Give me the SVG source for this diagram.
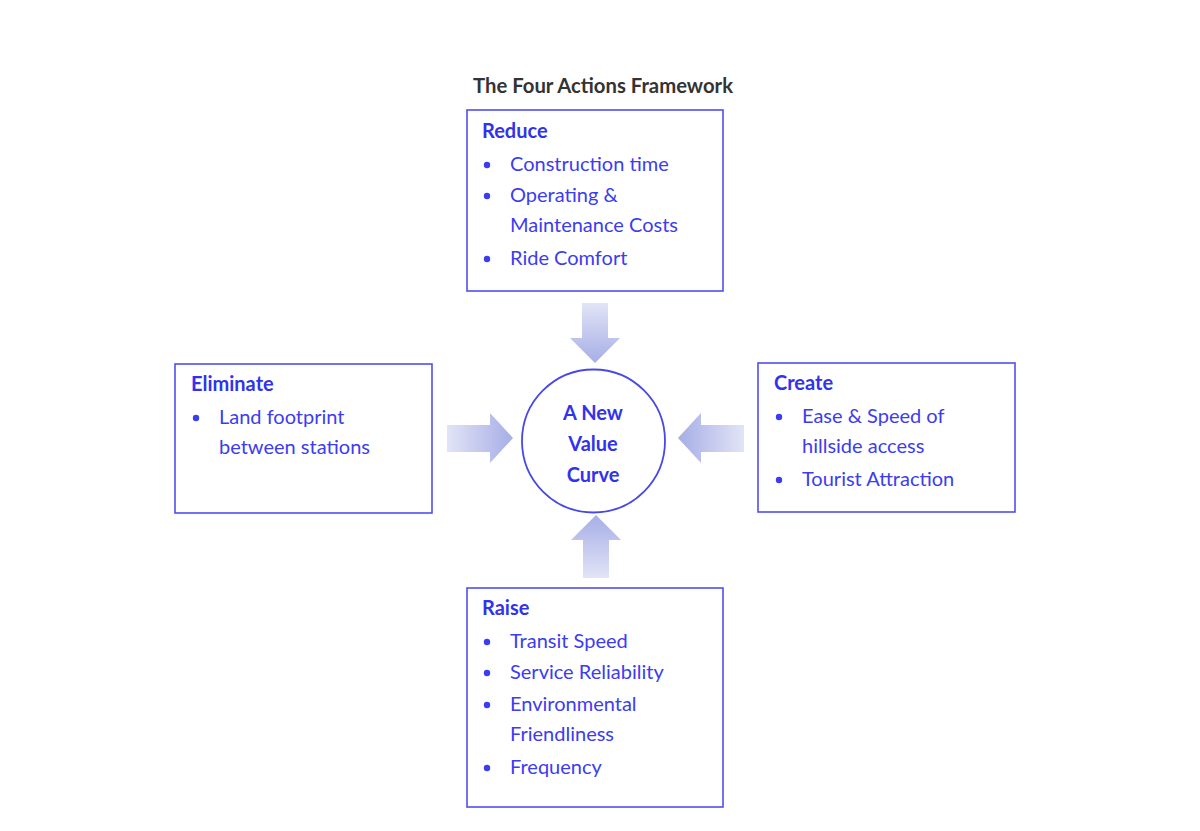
<svg xmlns="http://www.w3.org/2000/svg" width="1200" height="831" viewBox="0 0 1200 831">
<style>
.box{fill:#fff;stroke:#5050ee;stroke-width:1.6}
.t{font-family:Lato,"Open Sans",sans-serif;font-size:20px;fill:#3c3cf0}
.h{font-family:Lato,"Open Sans",sans-serif;font-size:20px;font-weight:bold;fill:#3232ee}
.title{font-family:Lato,"Open Sans",sans-serif;font-size:20.3px;font-weight:bold;fill:#333}
.dot{fill:#3c3cf0}
</style>
<defs>
<linearGradient id="gDown" x1="0" y1="0" x2="0" y2="1"><stop offset="0" stop-color="#e2e4f6"/><stop offset="1" stop-color="#a6aee6"/></linearGradient>
<linearGradient id="gUp" x1="0" y1="1" x2="0" y2="0"><stop offset="0" stop-color="#e2e4f6"/><stop offset="1" stop-color="#a6aee6"/></linearGradient>
<linearGradient id="gRight" x1="0" y1="0" x2="1" y2="0"><stop offset="0" stop-color="#e2e4f6"/><stop offset="1" stop-color="#a6aee6"/></linearGradient>
<linearGradient id="gLeft" x1="1" y1="0" x2="0" y2="0"><stop offset="0" stop-color="#e2e4f6"/><stop offset="1" stop-color="#a6aee6"/></linearGradient>
</defs>
<rect width="1200" height="831" fill="#fff"/>
<text class="title" x="603" y="93" text-anchor="middle">The Four Actions Framework</text>
<g id="connectors">
<polygon fill="url(#gDown)" points="582,303 608,303 608,338 620,338 595,363 570,338 582,338"/>
<polygon fill="url(#gUp)" points="583,578 609,578 609,540 621,540 596,515 571,540 583,540"/>
<polygon fill="url(#gRight)" points="447,425 490,425 490,413 513,438 490,463 490,452 447,452"/>
<polygon fill="url(#gLeft)" points="744,425 701,425 701,413 678,438 701,463 701,452 744,452"/>
</g>
<g id="reduce">
<rect class="box" x="467" y="110" width="256" height="181"/>
<text class="h" x="482" y="138">Reduce</text>
<circle class="dot" cx="487" cy="165" r="3.2"/>
<text class="t" x="510" y="171">Construction time</text>
<circle class="dot" cx="487" cy="196" r="3.2"/>
<text class="t" x="510" y="202">Operating &amp;</text>
<text class="t" x="510" y="232">Maintenance Costs</text>
<circle class="dot" cx="487" cy="259" r="3.2"/>
<text class="t" x="510" y="265">Ride Comfort</text>
</g>
<g id="eliminate">
<rect class="box" x="175" y="364" width="257" height="149"/>
<text class="h" x="191" y="391">Eliminate</text>
<circle class="dot" cx="196" cy="418" r="3.2"/>
<text class="t" x="219" y="424">Land footprint</text>
<text class="t" x="219" y="454">between stations</text>
</g>
<g id="create">
<rect class="box" x="758" y="363" width="257" height="149"/>
<text class="h" x="774" y="390">Create</text>
<circle class="dot" cx="779" cy="417" r="3.2"/>
<text class="t" x="802" y="423">Ease &amp; Speed of</text>
<text class="t" x="802" y="453">hillside access</text>
<circle class="dot" cx="779" cy="480" r="3.2"/>
<text class="t" x="802" y="486">Tourist Attraction</text>
</g>
<g id="raise">
<rect class="box" x="467" y="588" width="256" height="219"/>
<text class="h" x="482" y="615">Raise</text>
<circle class="dot" cx="487" cy="642" r="3.2"/>
<text class="t" x="510" y="648">Transit Speed</text>
<circle class="dot" cx="487" cy="673" r="3.2"/>
<text class="t" x="510" y="679">Service Reliability</text>
<circle class="dot" cx="487" cy="705" r="3.2"/>
<text class="t" x="510" y="711">Environmental</text>
<text class="t" x="510" y="741">Friendliness</text>
<circle class="dot" cx="487" cy="768" r="3.2"/>
<text class="t" x="510" y="774">Frequency</text>
</g>
<g id="value-curve">
<circle cx="593.5" cy="441" r="71.5" fill="#fff" stroke="#4848e8" stroke-width="1.8"/>
<text class="h" x="593" y="420" text-anchor="middle">A New</text>
<text class="h" x="593" y="451" text-anchor="middle">Value</text>
<text class="h" x="593" y="482" text-anchor="middle">Curve</text>
</g>
</svg>
